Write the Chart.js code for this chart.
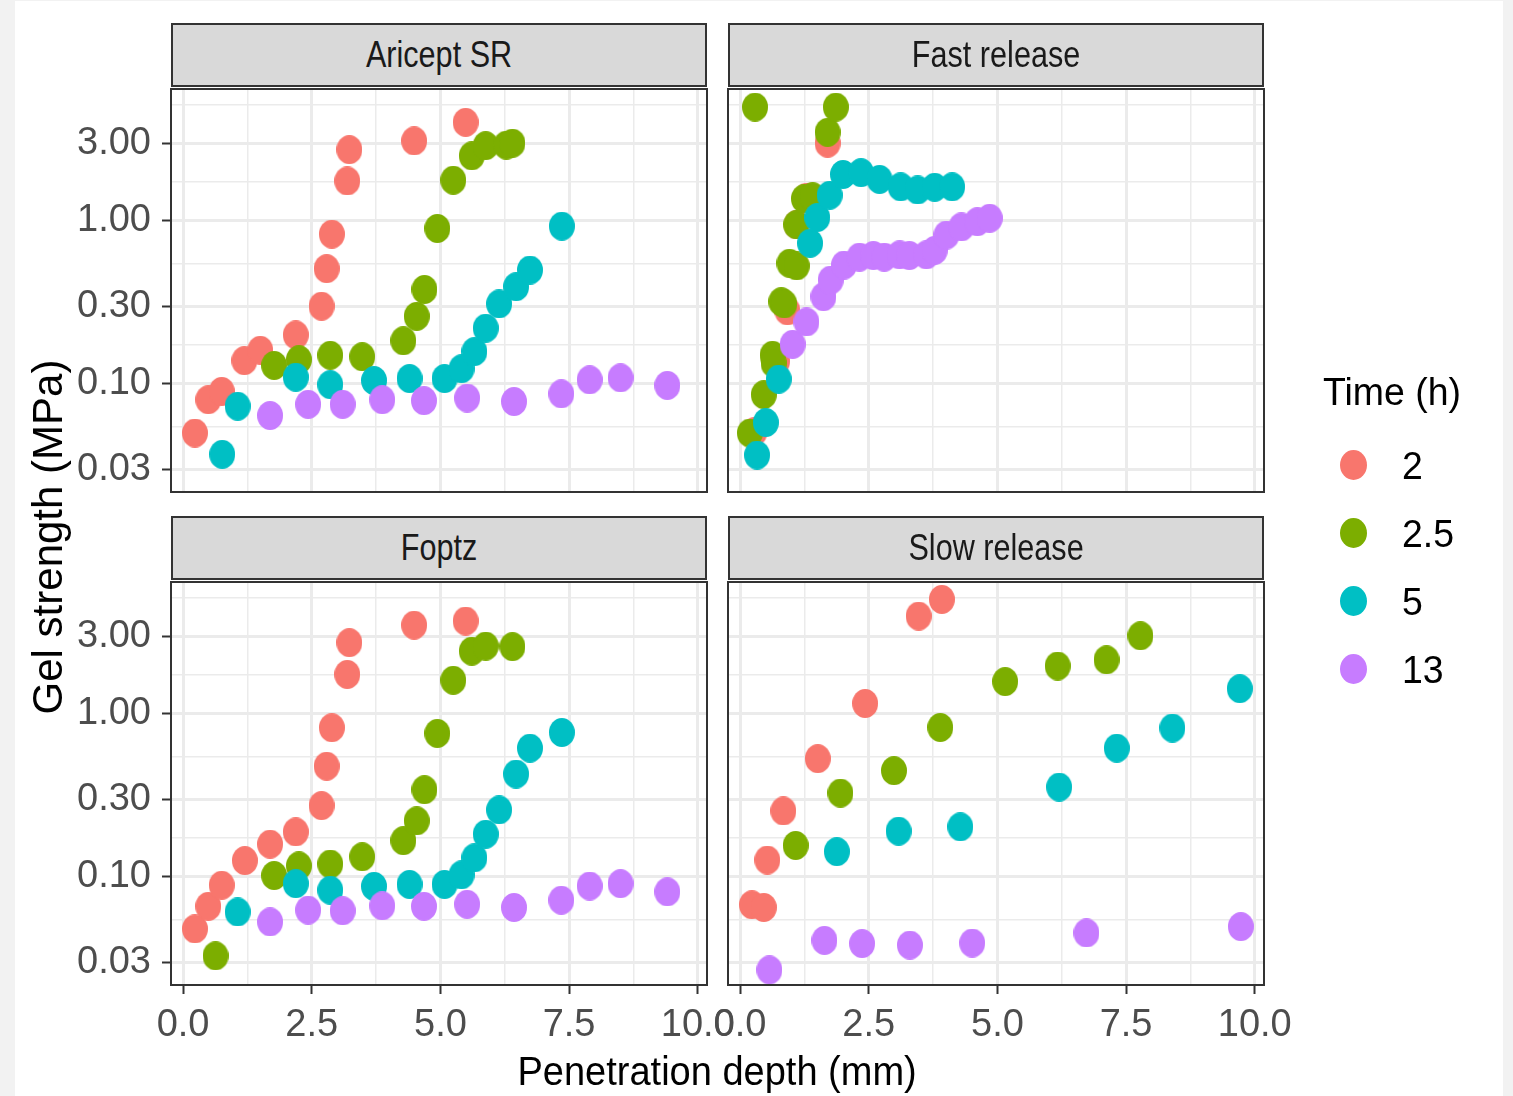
<!DOCTYPE html>
<html>
<head>
<meta charset="utf-8">
<script src="https://cdn.jsdelivr.net/npm/chart.js@4.4.1/dist/chart.umd.min.js"></script>
<style>
html, body { margin: 0; padding: 0; background: #f2f2f2; }
#page { position: relative; width: 1513px; height: 1096px; overflow: hidden; }
#sheet { position: absolute; left: 15px; top: 1px; width: 1488px; height: 1095px; background: #fff; }
canvas.panel { position: absolute; left: 0; top: 0; }
.strip { position: absolute; box-sizing: border-box; background: #d9d9d9; border: 2px solid #333;
  color: #1a1a1a; font: 36px "Liberation Sans", Arial, sans-serif; display: flex;
  align-items: center; justify-content: center; }
.strip span { display: inline-block; transform: scaleX(0.85); }
.title { position: absolute; color: #000; font-family: "Liberation Sans", Arial, sans-serif; white-space: nowrap; }
.key { position: absolute; width: 27px; height: 30px; border-radius: 50%; }
</style>
</head>
<body>
<div id="page">
  <div id="sheet"></div>
  <canvas class="panel" id="c0" width="1513" height="1096"></canvas>
  <canvas class="panel" id="c1" width="1513" height="1096"></canvas>
  <canvas class="panel" id="c2" width="1513" height="1096"></canvas>
  <canvas class="panel" id="c3" width="1513" height="1096"></canvas>
  <div id="strips"></div>
  <div class="title" id="xtitle" style="left:317px;top:1051px;width:800px;text-align:center;font-size:40px;line-height:40px;"><span style="display:inline-block;transform:scaleX(0.95)">Penetration depth (mm)</span></div>
  <div class="title" id="ytitle" style="left:-202px;top:516px;width:500px;height:42px;text-align:center;font-size:42px;line-height:42px;transform:rotate(-90deg);">Gel strength (MPa)</div>
  <div id="legend"></div>
</div>
<script>
// facets and groups
const panels = ['Aricept SR', 'Fast release', 'Foptz', 'Slow release'];
const times = ['2', '2.5', '5', '13'];
const colors = ['#F8766D', '#7CAE00', '#00BFC4', '#C77CFF'];

// axis breaks
const xTicks = [0, 2.5, 5, 7.5, 10];
const xMinor = [1.25, 3.75, 6.25, 8.75];
const yTicks = [0.03, 0.1, 0.3, 1, 3];
const yMinor = [0.0548, 0.1732, 0.5477, 1.732, 5.196];

// [penetration depth (mm), gel strength (MPa)]
const aricept2 = [[0.23,0.050],[0.49,0.080],[0.75,0.090],[1.19,0.139],[1.50,0.161],[2.19,0.200],[2.69,0.300],[2.79,0.51],[2.89,0.83],[3.19,1.76],[3.23,2.74],[4.49,3.10],[5.49,4.03]];
const aricept25 = [[1.77,0.130],[2.25,0.141],[2.86,0.150],[3.48,0.147],[4.28,0.184],[4.54,0.26],[4.69,0.38],[4.94,0.90],[5.25,1.78],[5.61,2.51],[5.88,2.90],[6.28,2.92],[6.40,3.00]];
const aricept5 = [[0.76,0.037],[1.06,0.073],[2.19,0.110],[2.86,0.099],[3.71,0.105],[4.40,0.108],[5.08,0.108],[5.41,0.124],[5.66,0.158],[5.88,0.22],[6.14,0.31],[6.47,0.395],[6.74,0.50],[7.36,0.93]];
const aricept13 = [[1.69,0.064],[2.43,0.075],[3.10,0.075],[3.87,0.080],[4.68,0.079],[5.52,0.082],[6.43,0.078],[7.35,0.087],[7.90,0.106],[8.50,0.109],[9.41,0.098]];

const fast2 = [[0.28,0.051],[0.72,0.138],[0.92,0.281],[1.10,0.95],[1.30,1.40],[1.70,3.0]];
const fast25 = [[0.19,0.050],[0.46,0.086],[0.63,0.150],[0.65,0.134],[0.80,0.32],[0.86,0.31],[0.96,0.55],[1.10,0.53],[1.09,0.95],[1.24,1.37],[1.41,1.41],[1.70,3.5],[0.29,5.0],[1.86,5.0]];
const fast5 = [[0.33,0.0366],[0.50,0.058],[0.75,0.107],[1.36,0.73],[1.50,1.05],[1.74,1.44],[2.00,1.93],[2.35,1.98],[2.71,1.80],[3.12,1.62],[3.45,1.55],[3.78,1.61],[4.12,1.62]];
const fast13 = [[1.02,0.175],[1.29,0.24],[1.62,0.343],[1.76,0.434],[2.02,0.537],[2.32,0.60],[2.59,0.614],[2.80,0.60],[3.10,0.62],[3.29,0.614],[3.62,0.62],[3.78,0.66],[4.01,0.82],[4.30,0.92],[4.61,0.99],[4.85,1.04]];

const foptz2 = [[0.23,0.048],[0.49,0.066],[0.75,0.089],[1.20,0.126],[1.69,0.159],[2.19,0.189],[2.69,0.274],[2.79,0.478],[2.89,0.824],[3.19,1.75],[3.23,2.74],[4.49,3.51],[5.49,3.72]];
const foptz25 = [[0.63,0.0328],[1.77,0.102],[2.25,0.117],[2.86,0.120],[3.48,0.133],[4.28,0.167],[4.54,0.221],[4.69,0.343],[4.94,0.76],[5.25,1.61],[5.61,2.43],[5.88,2.61],[6.40,2.59]];
const foptz5 = [[1.06,0.061],[2.19,0.091],[2.86,0.083],[3.71,0.0876],[4.40,0.090],[5.08,0.090],[5.41,0.103],[5.66,0.131],[5.88,0.183],[6.14,0.258],[6.47,0.428],[6.74,0.617],[7.36,0.77]];
const foptz13 = [[1.69,0.053],[2.43,0.0626],[3.10,0.062],[3.87,0.0665],[4.68,0.066],[5.52,0.068],[6.43,0.065],[7.35,0.072],[7.90,0.088],[8.50,0.091],[9.41,0.081]];

const slow2 = [[0.23,0.0675],[0.46,0.065],[0.53,0.127],[0.84,0.254],[1.51,0.532],[2.43,1.16],[3.47,3.99],[3.92,5.05]];
const slow25 = [[1.08,0.156],[1.95,0.327],[2.99,0.449],[3.89,0.827],[5.15,1.58],[6.17,1.97],[7.12,2.15],[7.78,3.02]];
const slow5 = [[1.88,0.143],[3.08,0.191],[4.28,0.203],[6.20,0.356],[7.32,0.617],[8.40,0.82],[9.71,1.43]];
const slow13 = [[0.57,0.0269],[1.64,0.0408],[2.37,0.039],[3.30,0.0382],[4.51,0.0393],[6.73,0.0453],[9.73,0.0496]];

const panelData = [
  [aricept2, aricept25, aricept5, aricept13],
  [fast2, fast25, fast5, fast13],
  [foptz2, foptz25, foptz5, foptz13],
  [slow2, slow25, slow5, slow13]
];

// layout of the facets (page pixels)
const W = 1513, H = 1096;
const boxes = [
  { left: 171, top: 89, right: 707, bottom: 492 },
  { left: 728, top: 89, right: 1264, bottom: 492 },
  { left: 171, top: 582, right: 707, bottom: 985 },
  { left: 728, top: 582, right: 1264, bottom: 985 }
];
const xMin = -0.235, xMax = 10.18;
const yMin = Math.pow(10, -1.663), yMax = Math.pow(10, 0.81);
const FONT = '"Liberation Sans", Arial, sans-serif';

function near(list, v) {
  return list.some(t => Math.abs(t - v) < 1e-6 * Math.max(1, t));
}

// ggplot-like slightly tall dots
function dot(color) {
  const c = document.createElement('canvas');
  c.width = 26; c.height = 29;
  const g = c.getContext('2d');
  g.fillStyle = color;
  g.beginPath();
  g.ellipse(13, 14.5, 13, 14.5, 0, 0, Math.PI * 2);
  g.fill();
  return c;
}
const dots = colors.map(dot);

const frame = {
  id: 'frame',
  afterDraw(chart) {
    const a = chart.chartArea, ctx = chart.ctx;
    ctx.save();
    ctx.strokeStyle = '#333333';
    ctx.lineWidth = 2;
    ctx.strokeRect(a.left, a.top, a.right - a.left, a.bottom - a.top);
    ctx.restore();
  }
};

function makePanel(i) {
  const box = boxes[i];
  const showY = i % 2 === 0;
  const showX = i >= 2;
  const yw = showY ? 111 : 0;
  const xh = showX ? 70 : 0;

  const datasets = panelData[i].map((pts, k) => ({
    label: times[k],
    data: pts.map(p => ({ x: p[0], y: p[1] })),
    pointStyle: dots[k],
    pointRadius: 13,
    pointHoverRadius: 13,
    backgroundColor: colors[k],
    borderWidth: 0,
    order: 4 - k
  }));

  new Chart(document.getElementById('c' + i), {
    type: 'scatter',
    data: { datasets: datasets },
    plugins: [frame],
    options: {
      responsive: false,
      animation: false,
      devicePixelRatio: 1,
      events: [],
      layout: {
        padding: { left: box.left - yw, top: box.top, right: W - box.right, bottom: H - box.bottom - xh }
      },
      plugins: { legend: { display: false }, tooltip: { enabled: false } },
      scales: {
        x: {
          type: 'linear',
          min: xMin,
          max: xMax,
          border: { display: false },
          afterBuildTicks: s => { s.ticks = xTicks.concat(xMinor).sort((a, b) => a - b).map(v => ({ value: v })); },
          afterFit: s => { s.height = xh; s.paddingLeft = 0; s.paddingRight = 0; },
          grid: {
            color: '#ebebeb',
            lineWidth: c => near(xMinor, c.tick.value) ? 1.5 : 3,
            drawTicks: showX,
            tickLength: 9,
            tickWidth: 2,
            tickColor: c => near(xMinor, c.tick.value) ? 'rgba(0,0,0,0)' : '#333333'
          },
          ticks: {
            display: showX,
            autoSkip: false,
            maxRotation: 0,
            padding: 9,
            color: '#4d4d4d',
            font: { family: FONT, size: 38 },
            callback: v => near(xTicks, v) ? v.toFixed(1) : ''
          }
        },
        y: {
          type: 'logarithmic',
          min: yMin,
          max: yMax,
          border: { display: false },
          afterBuildTicks: s => {
            s.ticks = yTicks.concat(yMinor).filter(v => v > yMin && v < yMax)
              .sort((a, b) => a - b).map(v => ({ value: v }));
          },
          afterFit: s => { s.width = yw; s.paddingTop = 0; s.paddingBottom = 0; },
          grid: {
            color: '#ebebeb',
            lineWidth: c => near(yMinor, c.tick.value) ? 1.5 : 3,
            drawTicks: showY,
            tickLength: 9,
            tickWidth: 2,
            tickColor: c => near(yMinor, c.tick.value) ? 'rgba(0,0,0,0)' : '#333333'
          },
          ticks: {
            display: showY,
            autoSkip: false,
            padding: 11,
            color: '#4d4d4d',
            font: { family: FONT, size: 38 },
            callback: v => near(yTicks, v) ? Number(v).toFixed(2) : ''
          }
        }
      }
    }
  });
}

for (let i = 0; i < 4; i++) makePanel(i);

// facet strips
const strips = document.getElementById('strips');
boxes.forEach((b, i) => {
  const s = document.createElement('div');
  s.className = 'strip';
  s.style.left = b.left + 'px';
  s.style.top = (b.top - 66) + 'px';
  s.style.width = (b.right - b.left) + 'px';
  s.style.height = '64px';
  s.innerHTML = '<span>' + panels[i] + '</span>';
  strips.appendChild(s);
});

// legend
const legend = document.getElementById('legend');
const lt = document.createElement('div');
lt.className = 'title';
lt.style.cssText = 'left:1323px;top:372px;font-size:39px;line-height:39px;transform:scaleX(0.96);transform-origin:left center;';
lt.textContent = 'Time (h)';
legend.appendChild(lt);
times.forEach((t, k) => {
  const yc = 465 + k * 68;
  const key = document.createElement('div');
  key.className = 'key';
  key.style.left = (1353 - 13.5) + 'px';
  key.style.top = (yc - 15) + 'px';
  key.style.background = colors[k];
  legend.appendChild(key);
  const lab = document.createElement('div');
  lab.className = 'title';
  lab.style.cssText = 'left:1402px;top:' + (yc - 19) + 'px;font-size:39px;line-height:39px;transform:scaleX(0.96);transform-origin:left center;';
  lab.textContent = t;
  legend.appendChild(lab);
});
</script>
</body>
</html>
